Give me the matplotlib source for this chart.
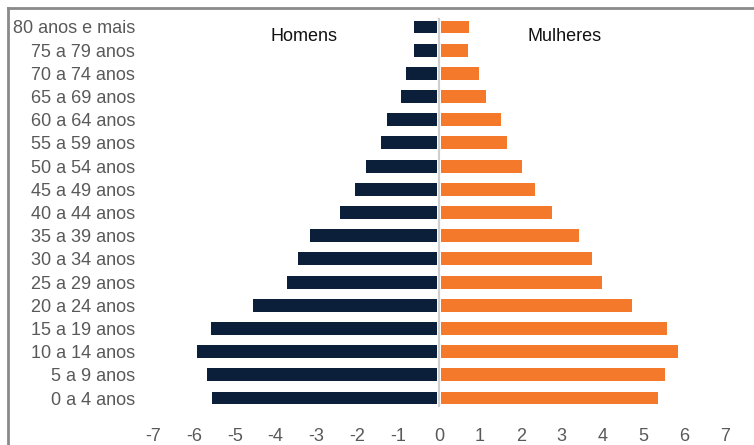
import numpy as np
import matplotlib.pyplot as plt
from matplotlib.lines import Line2D

plt.rcParams['font.family'] = ['Liberation Sans', 'DejaVu Sans']

ages = ['0 a 4 anos', '5 a 9 anos', '10 a 14 anos', '15 a 19 anos', '20 a 24 anos',
        '25 a 29 anos', '30 a 34 anos', '35 a 39 anos', '40 a 44 anos', '45 a 49 anos',
        '50 a 54 anos', '55 a 59 anos', '60 a 64 anos', '65 a 69 anos', '70 a 74 anos',
        '75 a 79 anos', '80 anos e mais']
homens = [5.51, 5.64, 5.88, 5.54, 4.51, 3.68, 3.41, 3.11, 2.38, 2.0,
          1.74, 1.37, 1.22, 0.88, 0.76, 0.56, 0.56]
mulheres = [5.32, 5.47, 5.80, 5.54, 4.68, 3.94, 3.70, 3.38, 2.72, 2.30,
            1.99, 1.62, 1.47, 1.10, 0.93, 0.66, 0.68]
xticks = np.arange(-7, 8)

fig = plt.figure(figsize=(7.54, 4.45), dpi=100)
ax = fig.add_axes([153/754, 1-409.6/445, 572/754, 394.2/445])

y = np.arange(len(ages))
ax.barh(y, -np.asarray(homens), height=0.56, color='#0b1f3b', left=-0.05)
ax.barh(y, mulheres, height=0.56, color='#f4792b', left=0.05)
ax.axvline(0, color='#cfcfcf', lw=1.5, ymin=0.01, ymax=0.99)

ax.set_xlim(-7, 7)
ax.set_ylim(-0.5, len(ages)-0.5)
ax.set_xticks(xticks)
ax.set_xticklabels([str(t) for t in xticks])
ax.set_yticks(y)
ax.set_yticklabels(ages)
ax.tick_params(axis='both', length=0, labelsize=13, labelcolor='#595959')
ax.tick_params(axis='x', pad=13)
ax.tick_params(axis='y', pad=13)
for s in ax.spines.values():
    s.set_visible(False)

ax.text(-3.3, 15.57, 'Homens', fontsize=13, ha='center', va='center', color='#111111')
ax.text(3.08, 15.57, 'Mulheres', fontsize=13, ha='center', va='center', color='#111111')

# outer frame of the original chart box (only top/left visible)
fy = 1 - 8/445
fx = 8/754
fig.add_artist(Line2D([fx, 0.999], [fy, fy], transform=fig.transFigure,
                      color='#8a8a8a', lw=2, zorder=10, clip_on=False))
fig.add_artist(Line2D([fx, fx], [0.001, fy], transform=fig.transFigure,
                      color='#8a8a8a', lw=2, zorder=10, clip_on=False))

plt.savefig('out.png', dpi=100)
